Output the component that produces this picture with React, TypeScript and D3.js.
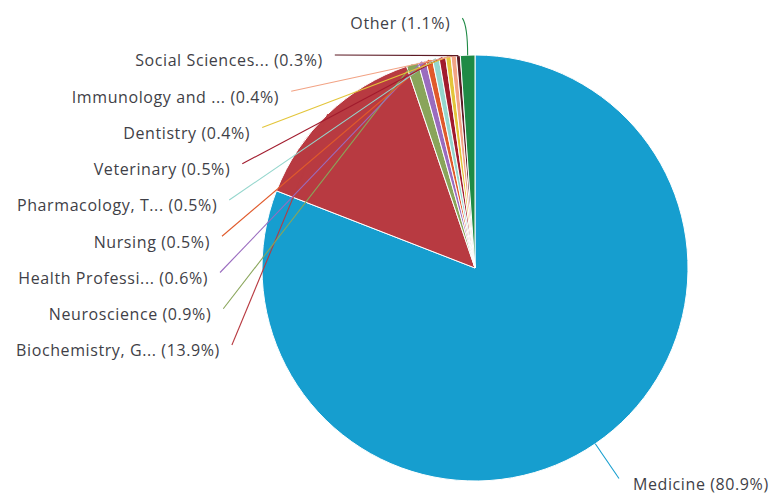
import React from "react";
import * as d3 from "d3";

const categories = [
  "Medicine",
  "Biochemistry, G...",
  "Neuroscience",
  "Health Professi...",
  "Nursing",
  "Pharmacology, T...",
  "Veterinary",
  "Dentistry",
  "Immunology and ...",
  "Social Sciences...",
  "Other",
];
const values = [80.9, 13.9, 0.9, 0.6, 0.5, 0.5, 0.5, 0.4, 0.4, 0.3, 1.1];
const colors = [
  "#169ecf",
  "#b83a41",
  "#89a55a",
  "#9a6cbf",
  "#e05a2b",
  "#95d6cd",
  "#a11b2d",
  "#e3c53a",
  "#f2a385",
  "#5c1a24",
  "#1f8a45",
];

const W = 778;
const H = 493;
const cx = 475;
const cy = 268;
const R = 213;
const labelR = 255;
const spacing = 36.25;
const topY = 55;

export default function App() {
  const pie = d3.pie<number>().sort(null).value((d) => d);
  const arcs = pie(values);
  const arcGen = d3.arc<d3.PieArcDatum<number>>().innerRadius(0).outerRadius(R);

  const mid = (a: d3.PieArcDatum<number>) => (a.startAngle + a.endAngle) / 2;
  const pt = (ang: number, r: number): [number, number] => [
    cx + r * Math.sin(ang),
    cy - r * Math.cos(ang),
  ];

  const leftIdx = arcs
    .map((a, i) => i)
    .filter((i) => i > 0 && i < arcs.length - 1)
    .sort((a, b) => pt(mid(arcs[a]), labelR)[1] - pt(mid(arcs[b]), labelR)[1] || b - a);
  const anchors: Record<number, [number, number]> = {};
  let prev = -Infinity;
  leftIdx.forEach((i) => {
    const y = Math.max(pt(mid(arcs[i]), labelR)[1], topY, prev + spacing);
    prev = y;
    const dy = y - cy;
    const x = cx - Math.sqrt(Math.max(0, labelR * labelR - dy * dy));
    anchors[i] = [x, y];
  });
  anchors[0] = pt(mid(arcs[0]), labelR);
  const last = arcs.length - 1;
  anchors[last] = pt(mid(arcs[last]), 250);

  return (
    <svg width={W} height={H} style={{ position: "absolute", left: 0, top: 0, background: "#fff" }}>
      <g transform={`translate(${cx},${cy})`}>
        {arcs.map((a, i) => (
          <path key={i} d={arcGen(a) || ""} fill={colors[i]} stroke="#fff" strokeWidth={1} strokeLinejoin="round" />
        ))}
      </g>
      {arcs.map((a, i) => {
        const [ex, ey] = pt(mid(a), R);
        const [ax, ay] = anchors[i];
        const d =
          i === last
            ? `M${ax - 4},${ay} Q${ex},${ay + 8} ${ex},${ey}`
            : `M${ax},${ay} L${ex},${ey}`;
        return <path key={"l" + i} d={d} fill="none" stroke={colors[i]} strokeWidth={1.1} />;
      })}
      {arcs.map((a, i) => {
        const [ax, ay] = anchors[i];
        const right = i === 0;
        return (
          <text
            key={"t" + i}
            x={right ? ax + 14 : i === last ? ax - 16 : ax - 12}
            y={ay + 7}
            textAnchor={right ? "start" : "end"}
            dominantBaseline="middle"
            fontFamily="'Open Sans', sans-serif"
            fontSize={16}
            letterSpacing={0.6}
            fill="#3f3f47"
          >
            {`${categories[i]} (${values[i].toFixed(1)}%)`}
          </text>
        );
      })}
    </svg>
  );
}
